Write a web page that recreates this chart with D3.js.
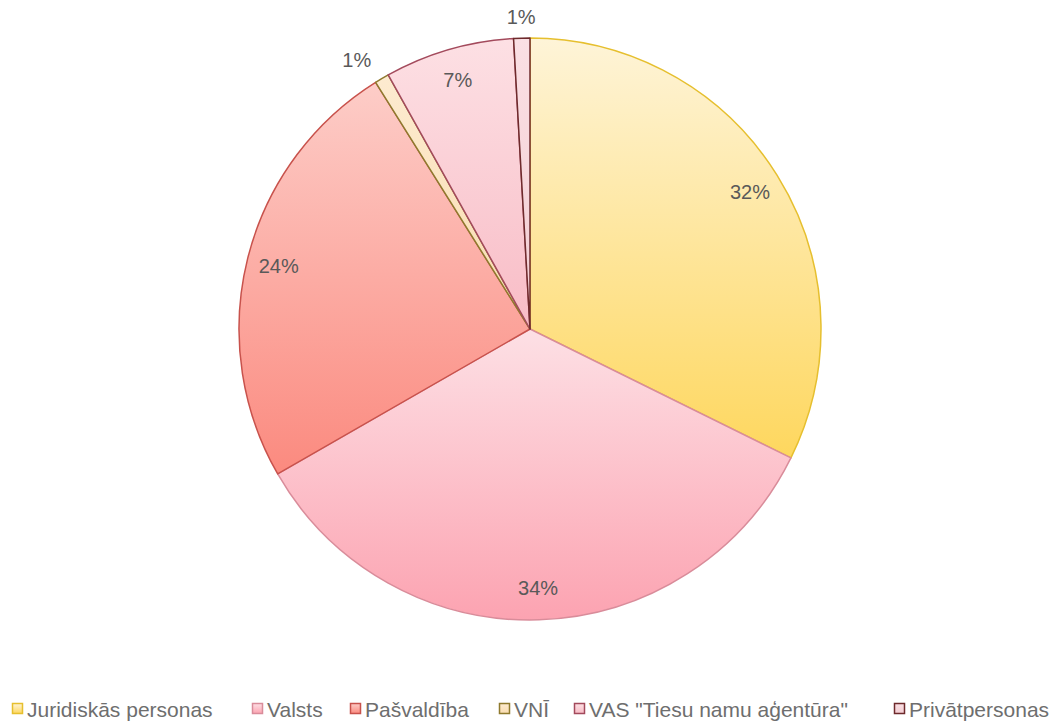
<!DOCTYPE html>
<html>
<head>
<meta charset="utf-8">
<script src="https://cdn.jsdelivr.net/npm/d3@7"></script>
<style>
  body { margin: 0; background: #fff; }
  svg { display: block; }
</style>
</head>
<body>
<svg id="chart" width="1059" height="723"></svg>
<script>
// data (shares, %)
const categories = ["Juridiskās personas", "Valsts", "Pašvaldība", "VNĪ", "VAS \"Tiesu namu aģentūra\"", "Privātpersonas"];
const values = [32.3, 34.4, 24.4, 0.8, 7.2, 0.9];

// gradient colours (top -> bottom) and outlines per slice
const topColors = ["#fef4d8", "#fde0e5", "#fdcdc8", "#fdebd0", "#fde0e4", "#fae0e4"];
const bottomColors = ["#fed75e", "#fca3b1", "#fb8a7f", "#f9dcb0", "#f8bcc6", "#f3cdd3"];
const strokeColors = ["#e6bf2e", "#d98c9a", "#c8524c", "#8f7a2e", "#a34a5c", "#6e2a2c"];

// legend marker x positions, measured
const legendX = [12, 252, 350, 499, 574, 894];

const width = 1059, height = 723;
const cx = 530, cy = 329, radius = 291;

const svg = d3.select("#chart");
const defs = svg.append("defs");

categories.forEach(function (c, i) {
  const g = defs.append("linearGradient")
    .attr("id", "grad" + i)
    .attr("x1", 0).attr("y1", 0)
    .attr("x2", 0).attr("y2", 1);
  g.append("stop").attr("offset", "0%").attr("stop-color", topColors[i]);
  g.append("stop").attr("offset", "100%").attr("stop-color", bottomColors[i]);
});

const total = d3.sum(values);
const pie = d3.pie().sort(null).value(function (d) { return d; });
const arcs = pie(values);

const arc = d3.arc().innerRadius(0).outerRadius(radius);
const labelArc = d3.arc().innerRadius(radius * 0.89).outerRadius(radius * 0.89);
const outerArc = d3.arc().innerRadius(radius + 21).outerRadius(radius + 21);

const gPie = svg.append("g").attr("transform", "translate(" + cx + "," + cy + ")");

gPie.selectAll("path.slice")
  .data(arcs)
  .enter()
  .append("path")
  .attr("class", "slice")
  .attr("d", arc)
  .attr("fill", function (d, i) { return "url(#grad" + i + ")"; })
  .attr("stroke", function (d, i) { return strokeColors[i]; })
  .attr("stroke-width", 1.5)
  .attr("stroke-linejoin", "round");

gPie.selectAll("text.label")
  .data(arcs)
  .enter()
  .append("text")
  .attr("class", "label")
  .attr("font-family", "'Liberation Sans', Arial, sans-serif")
  .attr("font-size", 20)
  .attr("fill", "#595959")
  .attr("dominant-baseline", "central")
  .attr("transform", function (d) {
    const share = d.data / total * 100;
    const p = share < 2 ? outerArc.centroid(d) : labelArc.centroid(d);
    return "translate(" + p[0] + "," + p[1] + ")";
  })
  .attr("text-anchor", function (d) {
    const share = d.data / total * 100;
    if (share >= 2) return "middle";
    const s = Math.sin((d.startAngle + d.endAngle) / 2);
    return s < -0.3 ? "end" : s > 0.3 ? "start" : "middle";
  })
  .text(function (d) { return Math.round(d.data / total * 100) + "%"; });

// legend
const legend = svg.append("g").attr("class", "legend");
const items = legend.selectAll("g")
  .data(categories)
  .enter()
  .append("g")
  .attr("transform", function (d, i) { return "translate(" + legendX[i] + ",703)"; });

items.append("rect")
  .attr("x", 0.5).attr("y", 0.5)
  .attr("width", 10).attr("height", 10)
  .attr("fill", function (d, i) { return "url(#grad" + i + ")"; })
  .attr("stroke", function (d, i) { return strokeColors[i]; })
  .attr("stroke-width", 1.5);

items.append("text")
  .attr("x", 15)
  .attr("y", 6)
  .attr("dominant-baseline", "central")
  .attr("font-family", "'Liberation Sans', Arial, sans-serif")
  .attr("font-size", 21)
  .attr("fill", "#6e6e6e")
  .text(function (d) { return d; });
</script>
</body>
</html>
